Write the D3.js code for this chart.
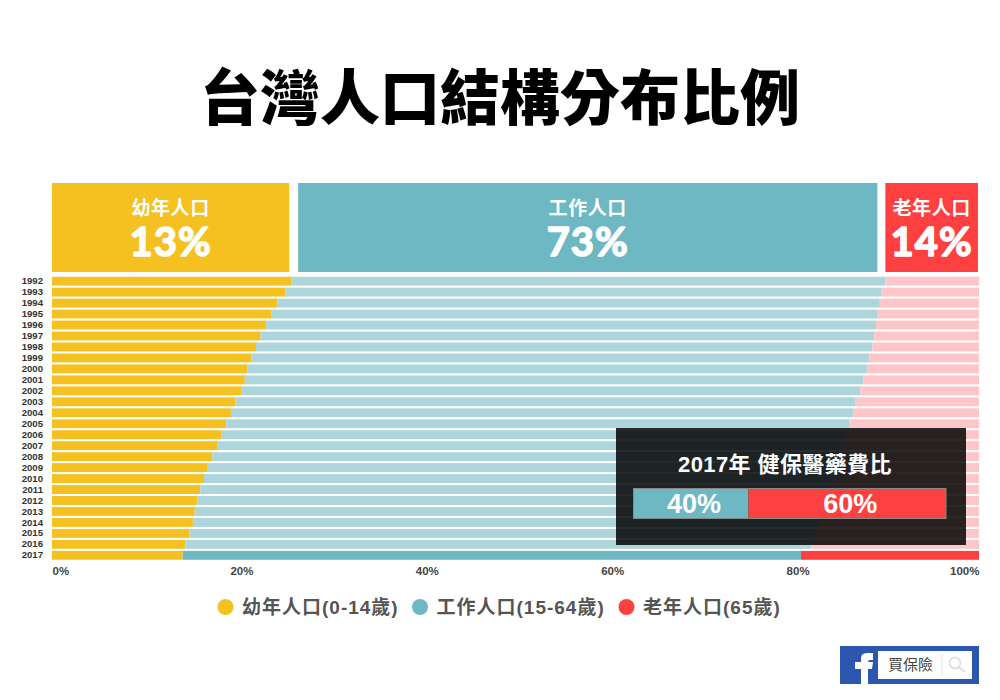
<!DOCTYPE html>
<html>
<head>
<meta charset="utf-8">
<script src="https://cdn.jsdelivr.net/npm/d3@7"></script>
<style>
  html, body { margin: 0; padding: 0; background: #fff; }
  svg { display: block; }
  text { font-family: "Liberation Sans", "Noto Sans CJK TC", sans-serif; font-weight: 700; }
</style>
</head>
<body>
<svg id="chart" width="1000" height="700"></svg>
<script>
const years = [1992, 1993, 1994, 1995, 1996, 1997, 1998, 1999, 2000, 2001, 2002, 2003, 2004,
  2005, 2006, 2007, 2008, 2009, 2010, 2011, 2012, 2013, 2014, 2015, 2016, 2017];
const young = [25.8, 25.2, 24.3, 23.7, 23.1, 22.5, 22.0, 21.5, 21.1, 20.8, 20.4, 19.8, 19.3,
  18.8, 18.3, 17.8, 17.3, 16.8, 16.4, 16.0, 15.7, 15.4, 15.2, 14.8, 14.4, 14.1];
const working = [64.1, 64.3, 65.0, 65.3, 65.8, 66.2, 66.5, 66.7, 66.8, 66.7, 66.8, 66.9, 67.1,
  67.2, 67.4, 67.5, 67.7, 67.9, 68.0, 68.1, 68.0, 67.9, 67.6, 67.6, 67.5, 66.7];
const elderly = [10.1, 10.5, 10.7, 11.0, 11.1, 11.3, 11.5, 11.8, 12.1, 12.5, 12.8, 13.3, 13.6,
  14.0, 14.3, 14.7, 15.0, 15.3, 15.6, 15.9, 16.3, 16.7, 17.2, 17.6, 18.1, 19.2];

const groupNames = ["幼年人口", "工作人口", "老年人口"];
const groupShares = ["13%", "73%", "14%"];
const legendLabels = ["幼年人口(0-14歲)", "工作人口(15-64歲)", "老年人口(65歲)"];
const xTicks = [0, 20, 40, 60, 80, 100];

const insetTitle = "2017年 健保醫藥費比";
const insetSegments = [36.8, 63.2]; // drawn split, the labels say 40 / 60
const insetLabels = ["40%", "60%"];

const colors = ["#f4c120", "#6db8c2", "#ff4040"];
const paleColors = ["#f4c120", "#acd6dc", "#fec6c8"];
const keys = ["young", "working", "elderly"];

const svg = d3.select("#chart");
const CJK = '"Noto Sans CJK TC", "Liberation Sans", sans-serif';

const rows = years.map((year, i) => ({ year, young: young[i], working: working[i], elderly: elderly[i] }));
const stacked = d3.stack().keys(keys)(rows);

const x = d3.scaleLinear().domain([0, 100]).range([52, 979]);
const y = d3.scaleBand().domain(years).range([276.5, 560]).paddingInner(0.19).paddingOuter(0.02);

// title
svg.append("text")
  .attr("x", 500).attr("y", 120)
  .attr("text-anchor", "middle")
  .style("font-family", CJK)
  .style("font-weight", 900)
  .style("font-size", "60px")
  .attr("fill", "#000")
  .text("台灣人口結構分布比例");

// header boxes line up with the first year of the stack
const headerEdges = [
  [x(0), x(young[0]) - 2],
  [x(young[0]) + 7, x(young[0] + working[0]) - 8],
  [x(young[0] + working[0]), x(100) - 1]
];
const header = svg.append("g").selectAll("g")
  .data(headerEdges)
  .enter().append("g");

header.append("rect")
  .attr("x", d => d[0])
  .attr("width", d => d[1] - d[0])
  .attr("y", 183).attr("height", 89)
  .attr("fill", (d, i) => colors[i]);

header.append("text")
  .attr("x", d => (d[0] + d[1]) / 2)
  .attr("y", 215)
  .attr("text-anchor", "middle")
  .style("font-family", CJK)
  .style("font-size", "19px")
  .style("letter-spacing", "0.6px")
  .attr("fill", "#fff")
  .text((d, i) => groupNames[i]);

header.append("text")
  .attr("x", d => (d[0] + d[1]) / 2)
  .attr("y", 256)
  .attr("text-anchor", "middle")
  .style("font-family", "Lato, sans-serif")
  .style("font-weight", 700)
  .style("font-size", "40px")
  .style("letter-spacing", "1px")
  .attr("fill", "#fff")
  .attr("stroke", "#fff")
  .attr("stroke-width", 1.5)
  .attr("stroke-linejoin", "round")
  .text((d, i) => groupShares[i]);

// stacked bars, only the last year keeps the full colours
svg.append("g").selectAll("g")
  .data(stacked)
  .enter().append("g")
  .each(function (serie, s) {
    d3.select(this).selectAll("rect")
      .data(serie)
      .enter().append("rect")
      .attr("x", d => x(d[0]))
      .attr("width", d => x(d[1]) - x(d[0]))
      .attr("y", d => y(d.data.year))
      .attr("height", y.bandwidth())
      .attr("fill", d => d.data.year === 2017 ? colors[s] : paleColors[s]);
  });

// year axis
const yAxisG = svg.append("g")
  .attr("transform", "translate(46,0)")
  .call(d3.axisLeft(y).tickSize(0).tickPadding(3));
yAxisG.select(".domain").remove();
yAxisG.selectAll("text")
  .style("font-size", "9.6px")
  .style("font-family", '"Liberation Sans", sans-serif')
  .attr("fill", "#333");

// percent axis
const xAxisG = svg.append("g")
  .attr("transform", "translate(0,560)")
  .call(d3.axisBottom(x).tickValues(xTicks).tickFormat(d => d + "%").tickSize(0).tickPadding(7));
xAxisG.select(".domain").remove();
xAxisG.selectAll("text")
  .style("font-size", "11.5px")
  .style("font-family", '"Liberation Sans", sans-serif')
  .attr("fill", "#444")
  .attr("text-anchor", d => d === 0 ? "start" : d === 100 ? "end" : "middle")
  .attr("dx", d => d === 0 || d === 100 ? 0 : 4);

// inset panel
svg.append("rect")
  .attr("x", 616).attr("y", 428)
  .attr("width", 350).attr("height", 117)
  .attr("fill", "#000").attr("fill-opacity", 0.84);

svg.append("text")
  .attr("x", 785).attr("y", 472)
  .attr("text-anchor", "middle")
  .style("font-size", "22px")
  .style("letter-spacing", "0.4px")
  .attr("fill", "#fff")
  .text(insetTitle);

const insetX = d3.scaleLinear().domain([0, 100]).range([633.5, 946]);
const insetStack = d3.cumsum(insetSegments);
const insetG = svg.append("g").selectAll("g")
  .data(insetSegments)
  .enter().append("g");

insetG.append("rect")
  .attr("x", (d, i) => insetX(insetStack[i] - d))
  .attr("width", d => insetX(d) - insetX(0))
  .attr("y", 488.5).attr("height", 30)
  .attr("fill", (d, i) => colors[i + 1]);

insetG.append("text")
  .attr("x", (d, i) => insetX(insetStack[i] - d / 2) + 3)
  .attr("y", 513)
  .attr("text-anchor", "middle")
  .style("font-size", "27px")
  .attr("fill", "#fff")
  .text((d, i) => insetLabels[i]);

svg.append("rect")
  .attr("x", 633.5).attr("y", 488.5)
  .attr("width", 312.5).attr("height", 30)
  .attr("fill", "none")
  .attr("stroke", "#888").attr("stroke-width", 1);

// legend
const legendCx = [225.5, 420, 626.5];
const legend = svg.append("g").selectAll("g")
  .data(legendLabels)
  .enter().append("g")
  .attr("transform", (d, i) => "translate(" + legendCx[i] + ",607)");

legend.append("circle")
  .attr("r", 8)
  .attr("fill", (d, i) => colors[i]);

legend.append("text")
  .attr("x", 16.5)
  .attr("y", 7)
  .style("font-size", "19px")
  .style("letter-spacing", "1px")
  .attr("fill", "#555")
  .text(d => d);

// logo, bottom right
const logo = svg.append("g");
logo.append("rect").attr("x", 840).attr("y", 646).attr("width", 139).attr("height", 38).attr("fill", "#2b57ae");
logo.append("path")
  .attr("d", "M861 684V669H855V662H861V658Q861 653 868 653H873V660H870Q868 660 868 662H873L872 669H868V684Z")
  .attr("fill", "#fff");
logo.append("rect").attr("x", 878).attr("y", 651).attr("width", 94).attr("height", 28).attr("fill", "#fff");
logo.append("text")
  .attr("x", 888).attr("y", 670)
  .style("font-family", CJK)
  .style("font-weight", 400)
  .style("font-size", "15px")
  .attr("fill", "#444")
  .text("買保險");
logo.append("line").attr("x1", 942).attr("x2", 942).attr("y1", 654).attr("y2", 676).attr("stroke", "#e4e4e4");
logo.append("circle").attr("cx", 955).attr("cy", 663).attr("r", 5.5).attr("fill", "none").attr("stroke", "#ddd").attr("stroke-width", 1.6);
logo.append("line").attr("x1", 959).attr("y1", 667).attr("x2", 965).attr("y2", 672).attr("stroke", "#ddd").attr("stroke-width", 2);
</script>
</body>
</html>
